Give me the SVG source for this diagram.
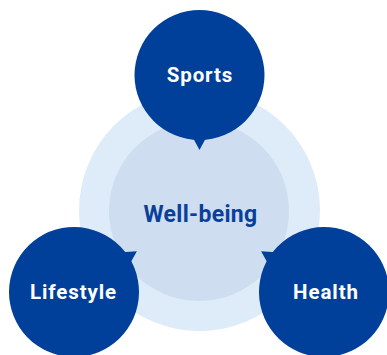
<svg xmlns="http://www.w3.org/2000/svg" width="387" height="355" viewBox="0 0 387 355">
  <style>
    .bubble { fill: #00409a; }
    .label { font-family: Roboto, "Liberation Sans", sans-serif; font-weight: 700; font-size: 20.5px; letter-spacing: 0.9px; fill: #ffffff; text-anchor: middle; }
    .center-label { font-family: Roboto, "Liberation Sans", sans-serif; font-weight: 700; font-size: 23px; letter-spacing: 0.3px; fill: #0a409a; text-anchor: middle; }
  </style>
  <defs>
    <g id="bubble">
      <circle class="bubble" cx="0" cy="0" r="65"/>
      <polygon class="bubble" points="-7,62 7,62 0,75"/>
    </g>
  </defs>
  <g id="wellbeing">
    <circle cx="199.5" cy="210.5" r="120.5" fill="#deebf8"/>
    <circle cx="199" cy="211" r="90" fill="#cedef0"/>
    <text class="center-label" x="200.5" y="222">Well-being</text>
  </g>
  <g id="sports">
    <use href="#bubble" transform="translate(199.5,75)"/>
    <text class="label" x="200" y="82">Sports</text>
  </g>
  <g id="lifestyle">
    <use href="#bubble" transform="translate(74,292) rotate(-123)"/>
    <text class="label" x="73.5" y="299">Lifestyle</text>
  </g>
  <g id="health">
    <use href="#bubble" transform="translate(324,292) rotate(123)"/>
    <text class="label" x="326" y="299">Health</text>
  </g>
</svg>
